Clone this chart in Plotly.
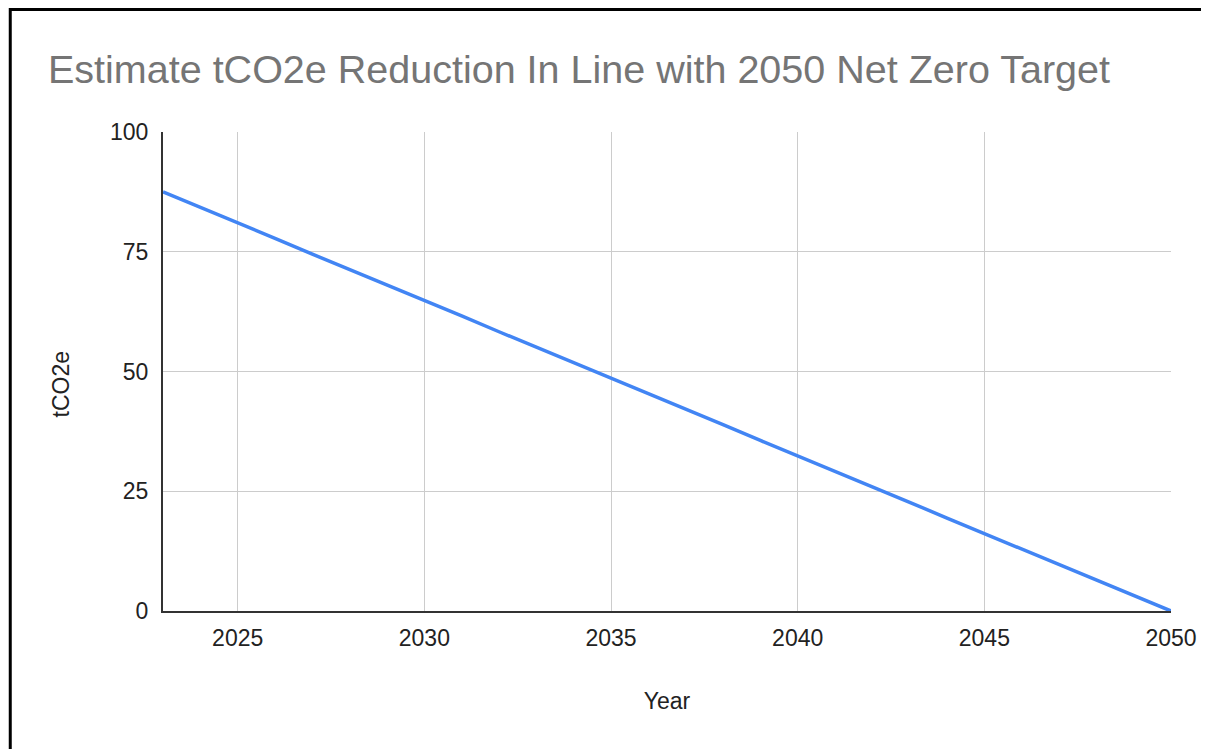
import plotly.graph_objects as go

years = list(range(2023, 2051))
tco2e = [87.5, 84.3, 81.0, 77.8, 74.5, 71.3, 68.1, 64.8, 61.6, 58.3,
         55.1, 51.9, 48.6, 45.4, 42.1, 38.9, 35.6, 32.4, 29.2, 25.9,
         22.7, 19.4, 16.2, 13.0, 9.7, 6.5, 3.2, 0.0]
x_ticks = [2025, 2030, 2035, 2040, 2045, 2050]
y_ticks = [0, 25, 50, 75, 100]

title_text = "Estimate tCO2e Reduction In Line with 2050 Net Zero Target"
x_title = "Year"
y_title = "tCO2e"
font_family = "Liberation Sans, Arial, sans-serif"

OFF = 8  # page body margin
W, H = 1209 - OFF, 749 - OFF
# target plot area in screenshot pixels
PX_L, PX_R, PX_T, PX_B = 163, 1176, 132, 611
L, T = PX_L - OFF, PX_T - OFF
R, B = W - (PX_R - OFF), H - (PX_B - OFF)
pw, ph = PX_R - PX_L, PX_B - PX_T

fig = go.Figure()
fig.add_trace(go.Scatter(
    x=years, y=tco2e, mode="lines",
    line=dict(color="#4285F4", width=3.5),
    showlegend=False,
))

def px_to_paper_x(px):
    return (px - PX_L) / pw

def px_to_paper_y(py):
    return (PX_B - py) / ph

fig.add_shape(type="rect", xref="paper", yref="paper",
              x0=px_to_paper_x(OFF + 1.5), x1=px_to_paper_x(1225),
              y0=px_to_paper_y(775), y1=px_to_paper_y(OFF + 1.5),
              line=dict(color="black", width=3), fillcolor="rgba(0,0,0,0)",
              layer="above")

fig.add_annotation(text=y_title, xref="paper", yref="paper",
                   x=px_to_paper_x(60), y=px_to_paper_y(385),
                   xanchor="center", yanchor="middle", textangle=-90,
                   showarrow=False, font=dict(size=23, color="#222222"))

fig.update_layout(
    width=W, height=H,
    margin=dict(l=L, r=R, t=T, b=B),
    paper_bgcolor="white", plot_bgcolor="white",
    font=dict(family=font_family, color="#222222"),
    title=dict(text=title_text, x=(48 - OFF) / W, xanchor="left", xref="container",
               y=1 - (69 - OFF) / H, yanchor="middle", yref="container",
               font=dict(size=39.5, color="#757575", family=font_family)),
    xaxis=dict(range=[2023, 2050], tickvals=x_ticks, ticktext=[str(v) for v in x_ticks],
               showgrid=True, gridcolor="#cccccc", gridwidth=1,
               showline=True, linecolor="#333333", linewidth=2,
               zeroline=False, ticks="", ticklabelstandoff=5,
               tickfont=dict(size=23, color="#222222"),
               title=dict(text=x_title, font=dict(size=23, color="#222222"), standoff=43)),
    yaxis=dict(range=[0, 100], tickvals=y_ticks, ticktext=[str(v) for v in y_ticks],
               showgrid=True, gridcolor="#cccccc", gridwidth=1,
               showline=True, linecolor="#333333", linewidth=2,
               zeroline=False, ticks="", ticklabelstandoff=8,
               tickfont=dict(size=23, color="#222222")),
)

fig.write_html("out.html")
